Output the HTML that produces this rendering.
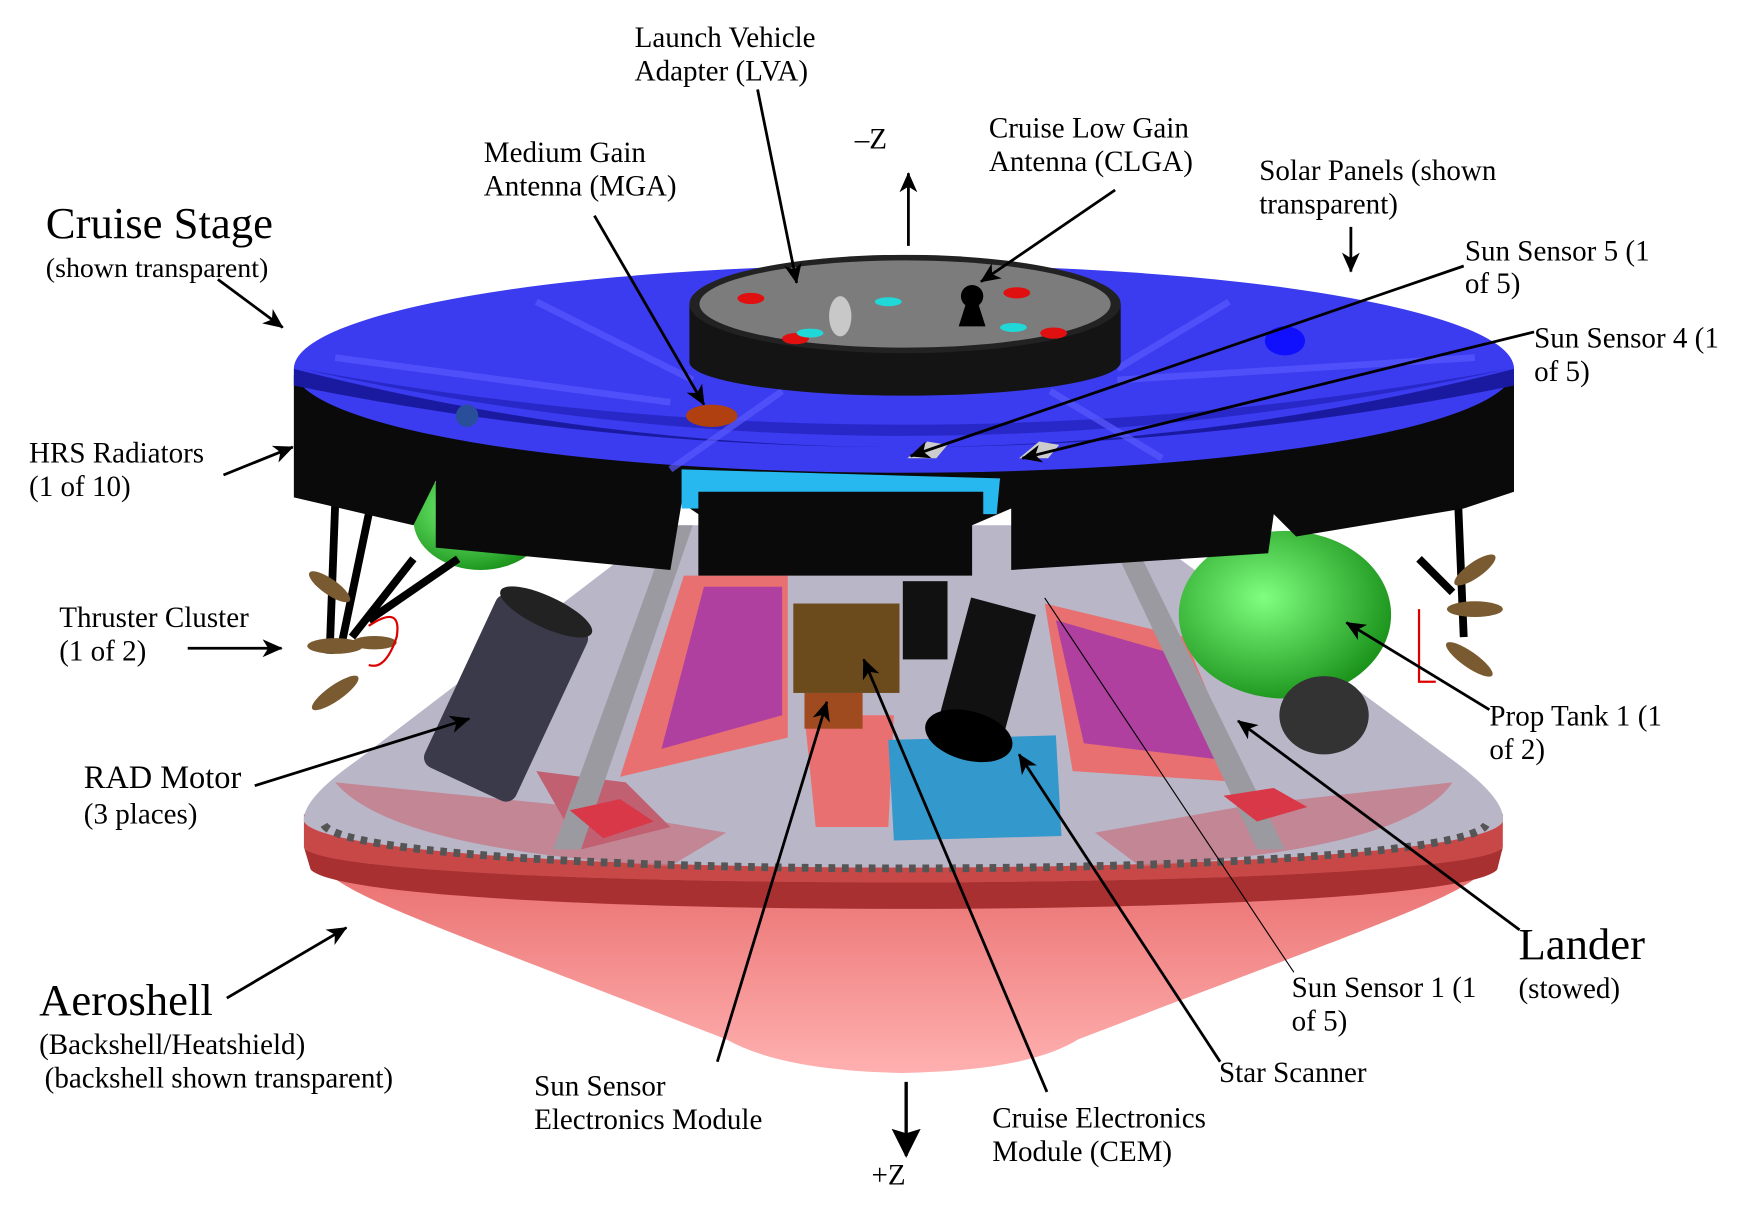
<!DOCTYPE html>
<html><head><meta charset="utf-8"><style>
html,body{margin:0;padding:0;background:#fff;}
svg{display:block;}
text{font-family:"Liberation Serif",serif;fill:#000;}
</style></head><body>
<svg width="1752" height="1216" viewBox="0 0 1568 1088" preserveAspectRatio="none" xmlns="http://www.w3.org/2000/svg">
<defs>
<marker id="ah" markerWidth="18" markerHeight="16" refX="17" refY="8" orient="auto" markerUnits="userSpaceOnUse" viewBox="0 0 18 16">
<path d="M0,0 L18,8 L0,16 L5,8 Z" fill="#000"/></marker>
<marker id="ahb" markerWidth="26" markerHeight="26" refX="24" refY="13" orient="auto" markerUnits="userSpaceOnUse" viewBox="0 0 26 26">
<path d="M0,0 L26,13 L0,26 L4,13 Z" fill="#000"/></marker>
<linearGradient id="pink" x1="0" y1="0" x2="0" y2="1"><stop offset="0" stop-color="#e86a6a"/><stop offset="1" stop-color="#ffb0b0"/></linearGradient>
<radialGradient id="grn" cx="0.4" cy="0.4" r="0.7"><stop offset="0" stop-color="#7fff7f"/><stop offset="1" stop-color="#118811"/></radialGradient>
</defs>

<!-- heatshield -->
<path d="M275,760 C300,800 330,805 650,930 Q700,958 808,960 Q920,958 965,930 C1290,805 1320,800 1345,760 Z" fill="url(#pink)"/>
<path d="M272,728 L272,758 C290,800 1320,800 1345,758 L1345,728 C1320,770 290,770 272,728 Z" fill="#c84848"/>
<path d="M272,758 C290,800 1320,800 1345,758 L1340,778 C1300,825 320,825 278,778 Z" fill="#a83030"/>

<!-- backshell translucent -->
<path d="M595,470 L1015,470 L1300,680 Q1348,715 1345,735 C1320,790 300,790 272,735 Q270,715 320,680 Z" fill="#b9b6c8"/>
<path d="M300,700 Q350,760 600,775 L650,745 L500,720 Z" fill="#c47a88" opacity="0.8"/>
<path d="M1300,700 Q1260,760 1020,775 L980,745 L1120,720 Z" fill="#c47a88" opacity="0.8"/>
<polygon points="612,515 705,515 705,660 555,695" fill="#e87070"/>
<polygon points="630,525 700,525 700,640 592,670" fill="#b040a0"/>
<polygon points="935,540 1060,570 1115,700 960,690" fill="#e87070"/>
<polygon points="945,555 1050,585 1095,680 970,665" fill="#b040a0"/>
<polygon points="720,640 800,640 795,740 730,740" fill="#e87070"/>
<polygon points="480,690 560,700 600,740 520,760" fill="#c06070"/>
<polygon points="600,470 620,470 520,760 495,760" fill="#9a9aa0"/>
<polygon points="990,475 1010,475 1150,760 1125,760" fill="#9a9aa0"/>
<path d="M290,738 C320,790 1300,790 1330,738" fill="none" stroke="#555" stroke-width="7" stroke-dasharray="6,6"/>
<polygon points="795,662 945,658 950,748 800,752" fill="#3399cc"/>
<rect x="710" y="540" width="95" height="80" fill="#6b4a1c"/>
<rect x="720" y="620" width="52" height="32" fill="#a04a20"/>
<g transform="rotate(25 455 620)"><rect x="410" y="540" width="90" height="170" rx="10" fill="#3a3a4a"/><ellipse cx="455" cy="540" rx="45" ry="14" fill="#222"/></g>
<g transform="rotate(15 880 610)"><rect x="850" y="540" width="60" height="120" fill="#111"/><ellipse cx="880" cy="660" rx="40" ry="22" fill="#000"/></g>
<rect x="808" y="520" width="40" height="70" fill="#111"/>
<polygon points="510,725 555,715 585,735 540,750" fill="#d83848"/>
<polygon points="1095,712 1140,705 1170,722 1125,735" fill="#d83848"/>
<ellipse cx="430" cy="465" rx="60" ry="45" fill="url(#grn)"/>
<ellipse cx="1150" cy="550" rx="95" ry="75" fill="url(#grn)"/>
<ellipse cx="1185" cy="640" rx="40" ry="35" fill="#333"/>

<g stroke="#000" stroke-width="7"><line x1="300" y1="450" x2="295" y2="585"/><line x1="330" y1="460" x2="305" y2="580"/><line x1="370" y1="500" x2="315" y2="570"/><line x1="410" y1="500" x2="330" y2="555"/>
<line x1="1305" y1="450" x2="1310" y2="570"/><line x1="1270" y1="500" x2="1300" y2="530"/></g>
<g fill="#7a5a30"><ellipse cx="295" cy="525" rx="22" ry="7" transform="rotate(35 295 525)"/><ellipse cx="300" cy="578" rx="25" ry="7"/><ellipse cx="300" cy="620" rx="25" ry="7" transform="rotate(-35 300 620)"/><ellipse cx="335" cy="575" rx="20" ry="6"/>
<ellipse cx="1320" cy="510" rx="22" ry="7" transform="rotate(-35 1320 510)"/><ellipse cx="1320" cy="545" rx="25" ry="7"/><ellipse cx="1315" cy="590" rx="25" ry="7" transform="rotate(35 1315 590)"/></g>
<path d="M330,560 Q360,540 355,570 Q345,600 330,595" fill="none" stroke="#d00" stroke-width="2"/>
<path d="M1270,545 L1270,610 L1285,610" fill="none" stroke="#d00" stroke-width="2"/>

<path d="M263,335 L263,445 L370,470 L390,430 L390,490 L600,510 L610,450 L625,460 L625,515 L870,515 L870,470 L905,455 L905,510 L1135,495 L1140,460 L1160,480 L1310,455 L1355,440 L1355,335 Q809,470 263,335 Z" fill="#0a0a0a"/>
<polygon points="610,420 895,428 892,460 880,460 880,440 625,440 625,455 610,455" fill="#28b8f0"/>
<ellipse cx="809" cy="330" rx="546" ry="93" fill="#3b3bef"/>
<path d="M263,330 Q809,470 1355,330 L1355,345 Q809,455 263,345 Z" fill="#1a1aa0"/>
<path d="M270,330 Q809,450 1350,330 Q809,430 270,330 Z" fill="#2828c8"/>
<g stroke="#5a5aff" stroke-width="6" opacity="0.7"><line x1="300" y1="320" x2="600" y2="360"/><line x1="480" y1="270" x2="620" y2="340"/><line x1="1000" y1="340" x2="1320" y2="320"/><line x1="1100" y1="270" x2="1000" y2="330"/><line x1="700" y1="350" x2="600" y2="420"/><line x1="940" y1="350" x2="1040" y2="410"/></g>
<ellipse cx="637" cy="372" rx="23" ry="10" fill="#b04010"/>
<ellipse cx="1150" cy="305" rx="18" ry="13" fill="#1010ff"/>
<ellipse cx="418" cy="372" rx="10" ry="10" fill="#2a4f9a"/>
<polygon points="812,410 830,395 848,398 838,410" fill="#ccc"/>
<polygon points="912,410 930,395 948,398 938,410" fill="#ccc"/>
<rect x="617" y="272" width="386" height="52" fill="#141414"/>
<ellipse cx="810" cy="324" rx="193" ry="30" fill="#141414"/>
<ellipse cx="810" cy="272" rx="193" ry="44" fill="#222"/>
<ellipse cx="810" cy="272" rx="184" ry="39" fill="#7c7c7c"/>
<ellipse cx="672" cy="267" rx="12" ry="5" fill="#e01010"/><ellipse cx="910" cy="262" rx="12" ry="5" fill="#e01010"/><ellipse cx="712" cy="303" rx="12" ry="5" fill="#e01010"/><ellipse cx="943" cy="298" rx="12" ry="5" fill="#e01010"/>
<ellipse cx="795" cy="270" rx="12" ry="4" fill="#20d8d8"/><ellipse cx="725" cy="298" rx="12" ry="4" fill="#20d8d8"/><ellipse cx="907" cy="293" rx="12" ry="4" fill="#20d8d8"/>
<ellipse cx="752" cy="283" rx="10" ry="18" fill="#c8c8c8"/>
<circle cx="870" cy="265" r="10" fill="#000"/><polygon points="865,270 875,270 882,292 858,292" fill="#000"/>

<g stroke="#000" stroke-width="2.5" fill="none" marker-end="url(#ah)">
<line x1="678" y1="80" x2="713" y2="253"/>
<line x1="532" y1="193" x2="630" y2="362"/>
<line x1="998" y1="170" x2="878" y2="252"/>
<line x1="1209" y1="203" x2="1209" y2="243"/>
<line x1="195" y1="250" x2="253" y2="293"/>
<line x1="1310" y1="238" x2="815" y2="408"/>
<line x1="1373" y1="297" x2="915" y2="410"/>
<line x1="200" y1="425" x2="262" y2="400"/>
<line x1="168" y1="580" x2="252" y2="580"/>
<line x1="1333" y1="635" x2="1205" y2="557"/>
<line x1="228" y1="703" x2="420" y2="643"/>
<line x1="1360" y1="832" x2="1108" y2="645"/>
<line x1="203" y1="893" x2="310" y2="830"/>
<line x1="1092" y1="950" x2="912" y2="675"/>
<line x1="642" y1="950" x2="740" y2="628"/>
<line x1="937" y1="977" x2="773" y2="590"/>
<line x1="813" y1="220" x2="813" y2="155"/>
</g>
<line x1="1158" y1="870" x2="935" y2="535" stroke="#000" stroke-width="1"/>
<line x1="811" y1="968" x2="811" y2="1034" stroke="#000" stroke-width="3" marker-end="url(#ahb)"/>

<g font-size="26">
<text x="568" y="42">Launch Vehicle</text><text x="568" y="72">Adapter (LVA)</text>
<text x="433" y="145">Medium Gain</text><text x="433" y="175">Antenna (MGA)</text>
<text x="765" y="133">–Z</text>
<text x="885" y="123">Cruise Low Gain</text><text x="885" y="153">Antenna (CLGA)</text>
<text x="1127" y="161">Solar Panels (shown</text><text x="1127" y="191">transparent)</text>
<text x="41" y="248" font-size="25">(shown transparent)</text>
<text x="1311" y="233">Sun Sensor 5 (1</text><text x="1311" y="262">of 5)</text>
<text x="1373" y="311">Sun Sensor 4 (1</text><text x="1373" y="341">of 5)</text>
<text x="26" y="414">HRS Radiators</text><text x="26" y="444">(1 of 10)</text>
<text x="53" y="561">Thruster Cluster</text><text x="53" y="591">(1 of 2)</text>
<text x="1333" y="649">Prop Tank 1 (1</text><text x="1333" y="679">of 2)</text>
<text x="75" y="705" font-size="29">RAD Motor</text><text x="75" y="737">(3 places)</text>
<text x="1359" y="893">(stowed)</text>
<text x="35" y="943">(Backshell/Heatshield)</text><text x="40" y="973">(backshell shown transparent)</text>
<text x="1156" y="892">Sun Sensor 1 (1</text><text x="1156" y="922">of 5)</text>
<text x="1091" y="968">Star Scanner</text>
<text x="478" y="980">Sun Sensor</text><text x="478" y="1010">Electronics Module</text>
<text x="888" y="1009">Cruise Electronics</text><text x="888" y="1039">Module (CEM)</text>
<text x="780" y="1060">+Z</text>
</g>
<text x="41" y="213" font-size="40">Cruise Stage</text>
<text x="1359" y="858" font-size="40">Lander</text>
<text x="35" y="908" font-size="40">Aeroshell</text>
</svg>
</body></html>
